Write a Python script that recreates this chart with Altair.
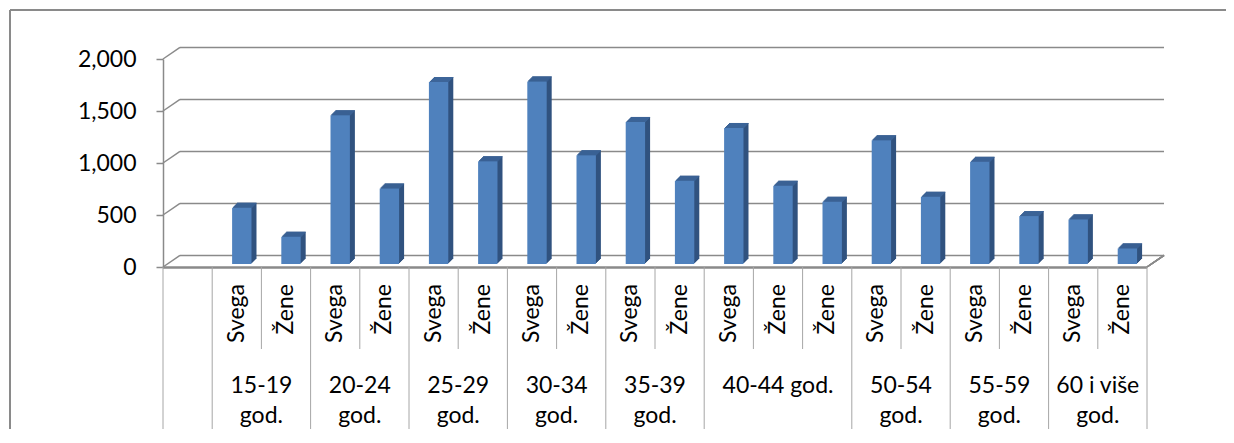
import altair as alt
import pandas as pd

# ---- data ----
group_line1 = ["15-19", "20-24", "25-29", "30-34", "35-39", "40-44 god.", "50-54", "55-59", "60 i više"]
group_line2 = ["god.", "god.", "god.", "god.", "god.", "", "god.", "god.", "god."]
group_sizes = [2, 2, 2, 2, 2, 3, 2, 2, 2]
sub_labels = ["Svega", "Žene", "Svega", "Žene", "Svega", "Žene", "Svega", "Žene",
              "Svega", "Žene", "Svega", "Žene", "Žene", "Svega", "Žene",
              "Svega", "Žene", "Svega", "Žene"]
values = [541, 262, 1430, 726, 1750, 988, 1756, 1046, 1366, 800,
          1308, 752, 598, 1190, 646, 982, 461, 429, 150]
y_ticks = [0, 500, 1000, 1500, 2000]

# ---- tables built from the arrays ----
n_slots = len(values) + 1  # first slot is empty
bars = pd.DataFrame({"slot": list(range(1, len(values) + 1)), "value": values, "sub": sub_labels})

starts = []
s = 1
for n in group_sizes:
    starts.append(s)
    s += n
groups = pd.DataFrame({"start": starts, "size": group_sizes, "l1": group_line1, "l2": group_line2})
long_b = pd.DataFrame({"b": [0] + starts + [n_slots]})
short_b = pd.DataFrame({"b": [st + j for st, n in zip(starts, group_sizes) for j in range(1, n)]})
ticks = pd.DataFrame({"t": y_ticks})

FRONT = "#4f81bd"
SIDE = "#30527f"
TOP = "#3d6599"
GRID = "#8a8a8a"
CATLINE = "#a6a6a6"
FONT = "Lato"
FS = 23

xs = alt.Scale(domain=[0, n_slots], nice=False, zero=False)
ys = alt.Scale(domain=[0, 2000], nice=False, zero=True)


def xf(f):
    return alt.X(f, type="quantitative", scale=xs, axis=None)


def xd(v):
    return alt.XDatum(v, type="quantitative", scale=xs, axis=None)


def yf(f):
    return alt.Y(f, type="quantitative", scale=ys, axis=None)


def yd(v):
    return alt.YDatum(v, type="quantitative", scale=ys, axis=None)


DX, DY = 17, -11.6  # depth of the 3D box
BX, BY = 5, -3      # bars sit a little behind the front plane

layers = []

# outer chart frame (runs off the right and bottom edges as in the reference)
layers.append(alt.Chart(ticks).mark_rule(color=GRID, strokeWidth=1.5).encode(
    x=alt.value(-153), x2=alt.value(1063), y=alt.value(-49)))
layers.append(alt.Chart(ticks).mark_rule(color=GRID, strokeWidth=1.5).encode(
    x=alt.value(-153), y=alt.value(-49), y2=alt.value(370)))

# back wall gridlines
layers.append(alt.Chart(ticks).mark_rule(color=GRID, strokeWidth=1.5, xOffset=DX, x2Offset=DX,
                                         yOffset=DY, y2Offset=DY).encode(
    x=xd(0), x2=alt.X2Datum(n_slots), y=yf("t:Q")))
# side wall diagonals
layers.append(alt.Chart(ticks).mark_rule(color=GRID, strokeWidth=1.5, x2Offset=DX, y2Offset=DY).encode(
    x=xd(0), x2=alt.X2Datum(0), y=yf("t:Q"), y2=alt.Y2("t:Q")))
# right floor diagonal
layers.append(alt.Chart(ticks).mark_rule(color=GRID, strokeWidth=1.5, x2Offset=DX, y2Offset=DY).encode(
    x=xd(n_slots), x2=alt.X2Datum(n_slots), y=yd(0), y2=alt.Y2Datum(0)))
# front floor edge
layers.append(alt.Chart(ticks).mark_rule(color=GRID, strokeWidth=1.5).encode(
    x=xd(0), x2=alt.X2Datum(n_slots), y=yd(0), yOffset=alt.value(0.5)))

# category table lines
layers.append(alt.Chart(long_b).mark_rule(color=CATLINE, strokeWidth=1).encode(
    x=xf("b:Q"), y=yd(0), y2=alt.value(370)))
layers.append(alt.Chart(short_b).mark_rule(color=CATLINE, strokeWidth=1).encode(
    x=xf("b:Q"), y=yd(0), y2=alt.value(290)))

base = alt.Chart(bars).transform_calculate(
    x0="datum.slot + 0.303", x1="datum.slot + 0.697", xc="datum.slot + 0.5")

# bar side faces (extrusion)
for k in range(1, 6):
    layers.append(base.mark_rect(color=SIDE, xOffset=BX + k, x2Offset=BX + k,
                                 yOffset=BY - k, y2Offset=BY - k).encode(
        x=xf("x0:Q"), x2=alt.X2("x1:Q"), y=yf("value:Q"), y2=alt.Y2Datum(0)))
# bar top faces
for k in range(1, 6):
    layers.append(base.mark_rect(color=TOP, xOffset=BX + k, x2Offset=BX + k,
                                 yOffset=BY - k, y2Offset=BY - k + 1).encode(
        x=xf("x0:Q"), x2=alt.X2("x1:Q"), y=yf("value:Q"), y2=alt.Y2("value:Q")))
# bar front faces, carrying the value axis
layers.append(base.mark_rect(color=FRONT, xOffset=BX, x2Offset=BX, yOffset=BY, y2Offset=BY).encode(
    x=xf("x0:Q"), x2=alt.X2("x1:Q"),
    y=alt.Y("value:Q", scale=ys, axis=alt.Axis(
        values=y_ticks, format=",.0f", grid=False, title=None,
        domainColor=GRID, domainWidth=1.5, tickColor=GRID, tickWidth=1.5, tickSize=7,
        labelPadding=20, labelFont=FONT, labelFontSize=FS, labelColor="black")),
    y2=alt.Y2Datum(0)))

# sub labels (rotated)
layers.append(base.mark_text(angle=270, align="right", baseline="middle", font=FONT,
                             fontSize=FS, color="black").encode(
    x=xf("xc:Q"), y=alt.value(225), text="sub:N"))

# group labels
gbase = alt.Chart(groups).transform_calculate(c="datum.start + datum.size / 2")
layers.append(gbase.mark_text(align="center", baseline="alphabetic", font=FONT, fontSize=FS,
                              color="black").encode(x=xf("c:Q"), y=alt.value(334), text="l1:N"))
layers.append(gbase.mark_text(align="center", baseline="alphabetic", font=FONT, fontSize=FS,
                              color="black").encode(x=xf("c:Q"), y=alt.value(364), text="l2:N"))

chart = alt.layer(*layers).resolve_axis(y="independent", x="independent").properties(
    width=984, height=208,
    autosize=alt.AutoSizeParams(type="none"),
    padding={"left": 155, "top": 51, "right": 79, "bottom": 162},
    background="white",
).configure_view(stroke=None)

chart.save("out.html", embed_options={"renderer": "svg", "actions": False})
